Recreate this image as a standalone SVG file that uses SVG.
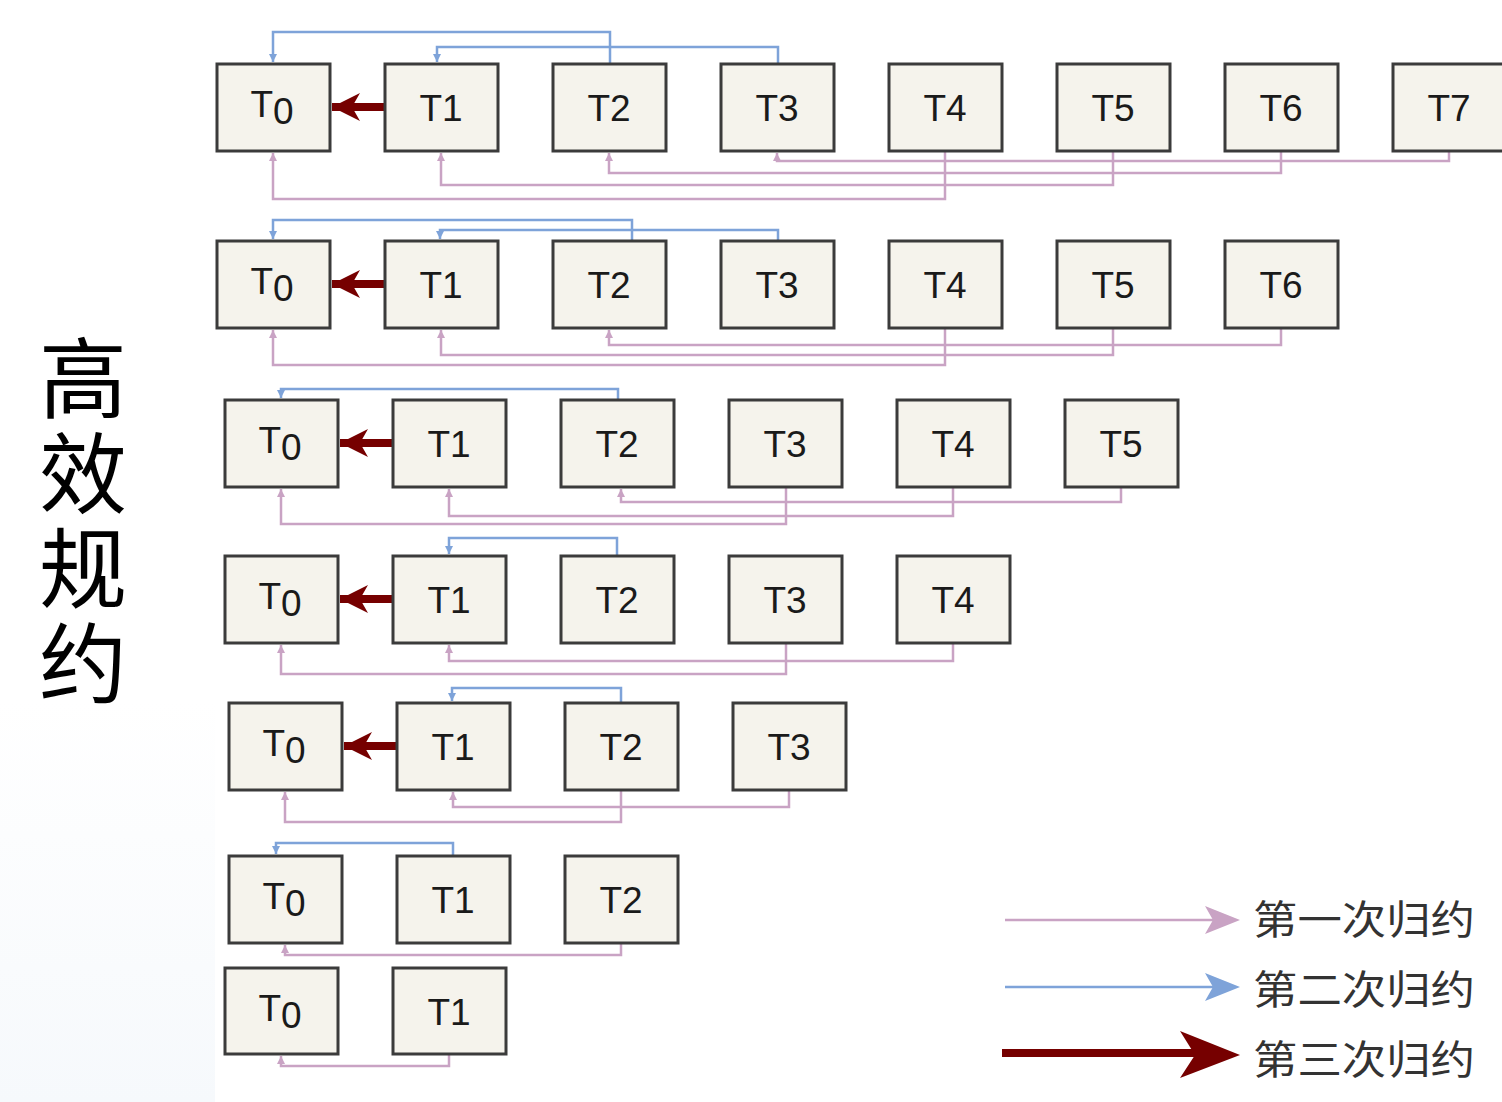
<svg xmlns="http://www.w3.org/2000/svg" width="1502" height="1102" viewBox="0 0 1502 1102">
  <style>
    .box { fill: #f5f3ec; stroke: #3b3b3b; stroke-width: 3; }
    .lbl { font-family: "Liberation Sans", Arial, sans-serif; font-size: 37px; fill: #1a1a1a; text-anchor: middle; }
    .p1 { fill: none; stroke: #c9a3c4; stroke-width: 2.5; marker-end: url(#mPink); }
    .p2 { fill: none; stroke: #7ea3d9; stroke-width: 2.5; marker-end: url(#mBlue); }
    .p3 { fill: none; stroke: #760000; stroke-width: 8; marker-end: url(#mRed); }
    .leg { font-family: "Noto Sans CJK SC", "Noto Sans", sans-serif; font-size: 40px; fill: #333333; }
    .title { font-family: "Noto Sans CJK SC", serif; font-size: 88px; fill: #000000; writing-mode: vertical-rl; letter-spacing: 7px; }
  </style>
  <defs>
    <marker id="mPink" markerUnits="userSpaceOnUse" markerWidth="10" markerHeight="10" refX="8" refY="4" orient="auto">
      <path d="M0,0 L8,4 L0,8 z" fill="#c9a3c4"/>
    </marker>
    <marker id="mBlue" markerUnits="userSpaceOnUse" markerWidth="10" markerHeight="10" refX="8" refY="4" orient="auto">
      <path d="M0,0 L8,4 L0,8 z" fill="#7ea3d9"/>
    </marker>
    <marker id="mRed" markerUnits="userSpaceOnUse" markerWidth="32" markerHeight="32" refX="28" refY="14" orient="auto">
      <path d="M0,0 L28,14 L0,28 L8,14 z" fill="#760000"/>
    </marker>
    <linearGradient id="haze" x1="0" y1="0" x2="0" y2="1">
      <stop offset="0" stop-color="#ffffff"/>
      <stop offset="1" stop-color="#f6f9fc"/>
    </linearGradient>
  </defs>

  <rect width="1502" height="1102" fill="#ffffff"/>
  <rect x="0" y="700" width="215" height="402" fill="url(#haze)"/>

  <!-- vertical heading -->
  <g id="title">
    <text class="title" x="83" y="334">高效规约</text>
  </g>

  <!-- connectors -->
  <g id="connectors">
    <!-- row 1 -->
    <path class="p2" d="M610 64 V32 H273 V62"/>
    <path class="p2" d="M778 64 V47 H437 V62"/>
    <path class="p1" d="M945 151 V199 H273 V153"/>
    <path class="p1" d="M1113 151 V185 H441 V153"/>
    <path class="p1" d="M1281 151 V173 H609 V153"/>
    <path class="p1" d="M1449 151 V161 H777 V153"/>
    <path class="p3" d="M385 107 H332"/>
    <!-- row 2 -->
    <path class="p2" d="M632 241 V220 H273 V239"/>
    <path class="p2" d="M778 241 V230 H440 V239"/>
    <path class="p1" d="M945 328 V365 H273 V330"/>
    <path class="p1" d="M1113 328 V355 H441 V330"/>
    <path class="p1" d="M1281 328 V345 H609 V330"/>
    <path class="p3" d="M385 284 H332"/>
    <!-- row 3 -->
    <path class="p2" d="M618 400 V389 H281 V398"/>
    <path class="p1" d="M786 487 V524 H281 V489"/>
    <path class="p1" d="M953 487 V516 H449 V489"/>
    <path class="p1" d="M1121 487 V502 H621 V489"/>
    <path class="p3" d="M393 443 H340"/>
    <!-- row 4 -->
    <path class="p2" d="M617 556 V538 H449 V554"/>
    <path class="p1" d="M786 643 V674 H281 V645"/>
    <path class="p1" d="M953 643 V661 H449 V645"/>
    <path class="p3" d="M393 599 H340"/>
    <!-- row 5 -->
    <path class="p2" d="M621 703 V688 H452 V701"/>
    <path class="p1" d="M621 790 V822 H285 V792"/>
    <path class="p1" d="M789 790 V807 H453 V792"/>
    <path class="p3" d="M397 746 H344"/>
    <!-- row 6 -->
    <path class="p2" d="M453 856 V843 H276 V854"/>
    <path class="p1" d="M621 943 V955 H285 V945"/>
    <!-- row 7 -->
    <path class="p1" d="M449 1054 V1066 H281 V1056"/>
  </g>

  <!-- row 1 -->
  <g id="r1-t0"><rect class="box" x="217" y="64" width="113" height="87"/><text class="lbl" x="272" y="117">T<tspan dy="7">0</tspan></text></g>
  <g id="r1-t1"><rect class="box" x="385" y="64" width="113" height="87"/><text class="lbl" x="441" y="121">T1</text></g>
  <g id="r1-t2"><rect class="box" x="553" y="64" width="113" height="87"/><text class="lbl" x="609" y="121">T2</text></g>
  <g id="r1-t3"><rect class="box" x="721" y="64" width="113" height="87"/><text class="lbl" x="777" y="121">T3</text></g>
  <g id="r1-t4"><rect class="box" x="889" y="64" width="113" height="87"/><text class="lbl" x="945" y="121">T4</text></g>
  <g id="r1-t5"><rect class="box" x="1057" y="64" width="113" height="87"/><text class="lbl" x="1113" y="121">T5</text></g>
  <g id="r1-t6"><rect class="box" x="1225" y="64" width="113" height="87"/><text class="lbl" x="1281" y="121">T6</text></g>
  <g id="r1-t7"><rect class="box" x="1393" y="64" width="113" height="87"/><text class="lbl" x="1449" y="121">T7</text></g>

  <!-- row 2 -->
  <g id="r2-t0"><rect class="box" x="217" y="241" width="113" height="87"/><text class="lbl" x="272" y="294">T<tspan dy="7">0</tspan></text></g>
  <g id="r2-t1"><rect class="box" x="385" y="241" width="113" height="87"/><text class="lbl" x="441" y="298">T1</text></g>
  <g id="r2-t2"><rect class="box" x="553" y="241" width="113" height="87"/><text class="lbl" x="609" y="298">T2</text></g>
  <g id="r2-t3"><rect class="box" x="721" y="241" width="113" height="87"/><text class="lbl" x="777" y="298">T3</text></g>
  <g id="r2-t4"><rect class="box" x="889" y="241" width="113" height="87"/><text class="lbl" x="945" y="298">T4</text></g>
  <g id="r2-t5"><rect class="box" x="1057" y="241" width="113" height="87"/><text class="lbl" x="1113" y="298">T5</text></g>
  <g id="r2-t6"><rect class="box" x="1225" y="241" width="113" height="87"/><text class="lbl" x="1281" y="298">T6</text></g>

  <!-- row 3 -->
  <g id="r3-t0"><rect class="box" x="225" y="400" width="113" height="87"/><text class="lbl" x="280" y="453">T<tspan dy="7">0</tspan></text></g>
  <g id="r3-t1"><rect class="box" x="393" y="400" width="113" height="87"/><text class="lbl" x="449" y="457">T1</text></g>
  <g id="r3-t2"><rect class="box" x="561" y="400" width="113" height="87"/><text class="lbl" x="617" y="457">T2</text></g>
  <g id="r3-t3"><rect class="box" x="729" y="400" width="113" height="87"/><text class="lbl" x="785" y="457">T3</text></g>
  <g id="r3-t4"><rect class="box" x="897" y="400" width="113" height="87"/><text class="lbl" x="953" y="457">T4</text></g>
  <g id="r3-t5"><rect class="box" x="1065" y="400" width="113" height="87"/><text class="lbl" x="1121" y="457">T5</text></g>

  <!-- row 4 -->
  <g id="r4-t0"><rect class="box" x="225" y="556" width="113" height="87"/><text class="lbl" x="280" y="609">T<tspan dy="7">0</tspan></text></g>
  <g id="r4-t1"><rect class="box" x="393" y="556" width="113" height="87"/><text class="lbl" x="449" y="613">T1</text></g>
  <g id="r4-t2"><rect class="box" x="561" y="556" width="113" height="87"/><text class="lbl" x="617" y="613">T2</text></g>
  <g id="r4-t3"><rect class="box" x="729" y="556" width="113" height="87"/><text class="lbl" x="785" y="613">T3</text></g>
  <g id="r4-t4"><rect class="box" x="897" y="556" width="113" height="87"/><text class="lbl" x="953" y="613">T4</text></g>

  <!-- row 5 -->
  <g id="r5-t0"><rect class="box" x="229" y="703" width="113" height="87"/><text class="lbl" x="284" y="756">T<tspan dy="7">0</tspan></text></g>
  <g id="r5-t1"><rect class="box" x="397" y="703" width="113" height="87"/><text class="lbl" x="453" y="760">T1</text></g>
  <g id="r5-t2"><rect class="box" x="565" y="703" width="113" height="87"/><text class="lbl" x="621" y="760">T2</text></g>
  <g id="r5-t3"><rect class="box" x="733" y="703" width="113" height="87"/><text class="lbl" x="789" y="760">T3</text></g>

  <!-- row 6 -->
  <g id="r6-t0"><rect class="box" x="229" y="856" width="113" height="87"/><text class="lbl" x="284" y="909">T<tspan dy="7">0</tspan></text></g>
  <g id="r6-t1"><rect class="box" x="397" y="856" width="113" height="87"/><text class="lbl" x="453" y="913">T1</text></g>
  <g id="r6-t2"><rect class="box" x="565" y="856" width="113" height="87"/><text class="lbl" x="621" y="913">T2</text></g>

  <!-- row 7 -->
  <g id="r7-t0"><rect class="box" x="225" y="968" width="113" height="86"/><text class="lbl" x="280" y="1021">T<tspan dy="7">0</tspan></text></g>
  <g id="r7-t1"><rect class="box" x="393" y="968" width="113" height="86"/><text class="lbl" x="449" y="1025">T1</text></g>

  <!-- legend -->
  <g id="legend">
    <line x1="1005" y1="920" x2="1215" y2="920" stroke="#c9a3c4" stroke-width="2.5"/>
    <path d="M1205,906 L1240,920 L1205,934 L1213,920 z" fill="#c9a3c4"/>
    <text class="leg" x="1253" y="934" textLength="222" lengthAdjust="spacingAndGlyphs">第一次归约</text>
    <line x1="1005" y1="987" x2="1215" y2="987" stroke="#7ea3d9" stroke-width="2.5"/>
    <path d="M1205,973 L1240,987 L1205,1001 L1213,987 z" fill="#7ea3d9"/>
    <text class="leg" x="1253" y="1004" textLength="222" lengthAdjust="spacingAndGlyphs">第二次归约</text>
    <line x1="1002" y1="1053" x2="1195" y2="1053" stroke="#760000" stroke-width="8"/>
    <path d="M1180,1031 L1240,1055 L1180,1078 L1195,1055 z" fill="#760000"/>
    <text class="leg" x="1253" y="1074" textLength="222" lengthAdjust="spacingAndGlyphs">第三次归约</text>
  </g>
</svg>
